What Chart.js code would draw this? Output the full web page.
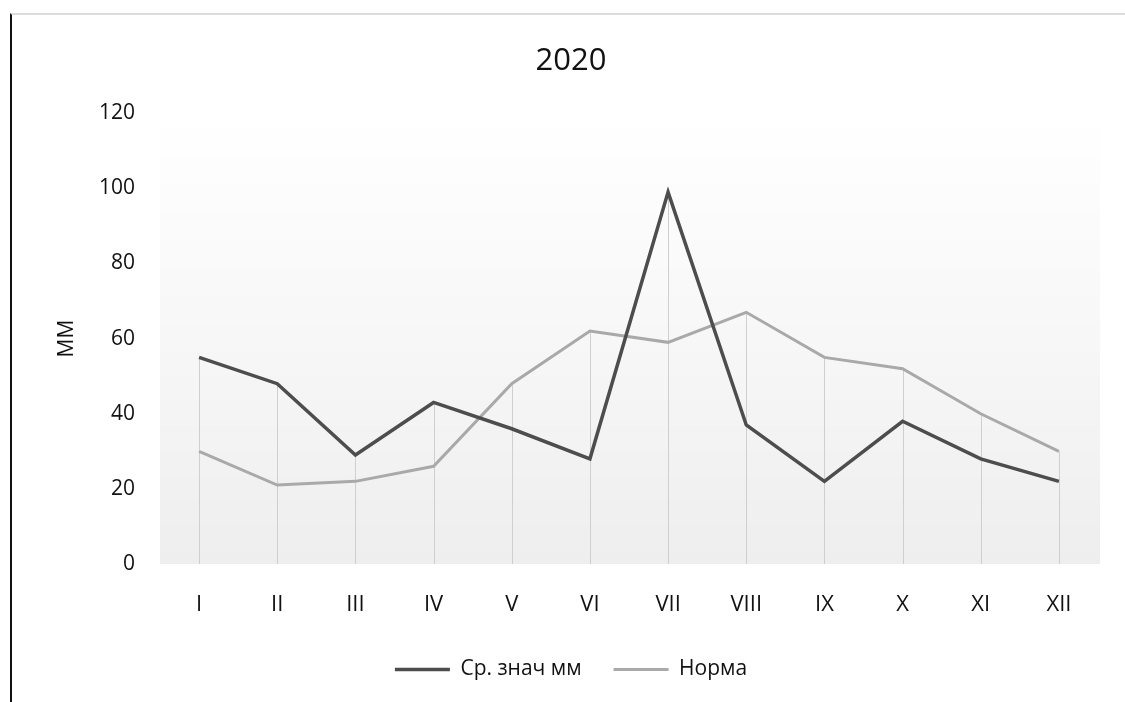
<!DOCTYPE html>
<html>
<head>
<meta charset="utf-8">
<script src="https://cdn.jsdelivr.net/npm/chart.js@4/dist/chart.umd.min.js"></script>
<style>
  html, body { margin: 0; padding: 0; background: #fff; }
  #frame {
    position: absolute; left: 10px; top: 13px;
    width: 1115px; height: 689px;
    border-left: 2px solid #111;
    border-top: 2px solid #dcdcdc;
  }
  #chart2020 { display: block; }
</style>
</head>
<body>
<div id="frame"><canvas id="chart2020" width="1113" height="687"></canvas></div>
<script>
const months = ['I', 'II', 'III', 'IV', 'V', 'VI', 'VII', 'VIII', 'IX', 'X', 'XI', 'XII'];
const avgValues = [55, 48, 29, 43, 36, 28, 99, 37, 22, 38, 28, 22];
const normValues = [30, 21, 22, 26, 48, 62, 59, 67, 55, 52, 40, 30];
const yTicks = [0, 20, 40, 60, 80, 100, 120];

const font = 'Open Sans';

// gray gradient behind the plot + drop lines from highest point to axis
const plotDecor = {
    id: 'plotDecor',
    beforeDatasetsDraw(chart) {
        const {ctx, chartArea, scales} = chart;
        const g = ctx.createLinearGradient(0, chartArea.bottom, 0, chartArea.top);
        g.addColorStop(0, 'rgba(0,0,0,0.065)');
        g.addColorStop(0.5, 'rgba(0,0,0,0.03)');
        g.addColorStop(1, 'rgba(0,0,0,0)');
        ctx.save();
        ctx.fillStyle = g;
        ctx.fillRect(chartArea.left, chartArea.top, chartArea.width + 2, chartArea.height);
        ctx.strokeStyle = '#cfcfcf';
        ctx.lineWidth = 1;
        months.forEach((m, i) => {
            const x = Math.round(scales.x.getPixelForValue(i)) + 0.5;
            const top = scales.y.getPixelForValue(Math.max(avgValues[i], normValues[i]));
            ctx.beginPath();
            ctx.moveTo(x, top);
            ctx.lineTo(x, chartArea.bottom);
            ctx.stroke();
        });
        ctx.restore();
    }
};

const chart = new Chart(document.getElementById('chart2020'), {
    type: 'line',
    data: {
        labels: months,
        datasets: [{
            label: 'Ср. знач мм',
            data: avgValues,
            borderColor: '#4d4d4d',
            backgroundColor: '#4d4d4d',
            borderWidth: 3.5,
            pointRadius: 0,
            tension: 0
        }, {
            label: 'Норма',
            data: normValues,
            borderColor: '#a9a9a9',
            backgroundColor: '#a9a9a9',
            borderWidth: 3,
            pointRadius: 0,
            tension: 0
        }]
    },
    options: {
        responsive: false,
        animation: false,
        layout: { padding: { left: 32, right: 27, top: 0, bottom: 12 } },
        plugins: {
            title: {
                display: true,
                text: '2020',
                color: '#111',
                font: { family: font, size: 31, weight: 'normal' },
                padding: { top: 28, bottom: 33 }
            },
            legend: {
                position: 'bottom',
                labels: {
                    usePointStyle: true,
                    pointStyleWidth: 55,
                    pointStyle: 'line',
                    color: '#111',
                    font: { family: font, size: 21 },
                    padding: 32
                }
            },
            tooltip: { enabled: false }
        },
        scales: {
            x: {
                offset: true,
                afterFit(scale) { scale.height = 63; },
                grid: { display: false },
                border: { display: false },
                ticks: { color: '#111', font: { family: font, size: 22 }, padding: 20 }
            },
            y: {
                min: 0,
                max: 120,
                afterBuildTicks(scale) {
                    scale.ticks = yTicks.map(v => ({ value: v }));
                },
                afterFit(scale) { scale.width = 116; },
                grid: { display: false },
                border: { display: false },
                ticks: { color: '#111', font: { family: font, size: 21 }, padding: 17 },
                title: {
                    display: true,
                    text: 'ММ',
                    color: '#111',
                    font: { family: font, size: 21 },
                    padding: { top: 10, bottom: 0 }
                }
            }
        }
    },
    plugins: [plotDecor]
});
</script>
</body>
</html>
